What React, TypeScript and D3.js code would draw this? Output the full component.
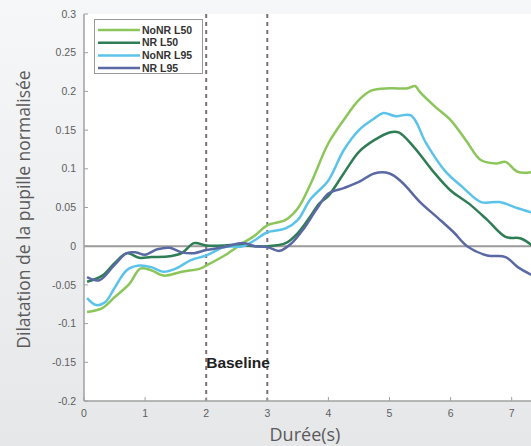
import React from 'react';
import * as d3 from 'd3';

// valeurs (temps en s, dilatation normalisée)
const noNrL50: [number, number][] = [
  [0.05, -0.085], [0.3, -0.08], [0.5, -0.066], [0.75, -0.048], [0.92, -0.029], [1.1, -0.031],
  [1.3, -0.038], [1.6, -0.033], [1.9, -0.029], [2.0, -0.025], [2.3, -0.012], [2.6, 0.004],
  [2.8, 0.014], [3.0, 0.027], [3.3, 0.034], [3.5, 0.049], [3.7, 0.079], [4.0, 0.133],
  [4.25, 0.163], [4.5, 0.189], [4.7, 0.201], [5.0, 0.204], [5.3, 0.204], [5.42, 0.207],
  [5.5, 0.199], [5.75, 0.18], [6.0, 0.163], [6.25, 0.137], [6.5, 0.111], [6.75, 0.107],
  [6.9, 0.109], [7.1, 0.096], [7.35, 0.096],
];
const nrL50: [number, number][] = [
  [0.05, -0.046], [0.3, -0.038], [0.5, -0.022], [0.7, -0.009], [0.9, -0.015], [1.1, -0.014],
  [1.4, -0.013], [1.6, -0.009], [1.8, 0.004], [2.0, 0.001], [2.3, 0.001], [2.5, 0.002],
  [2.8, 0.0], [3.0, 0.0], [3.3, 0.004], [3.5, 0.017], [3.7, 0.038], [3.85, 0.055],
  [4.0, 0.065], [4.25, 0.094], [4.5, 0.122], [4.75, 0.137], [5.0, 0.147], [5.15, 0.147],
  [5.4, 0.128], [5.7, 0.098], [6.0, 0.072], [6.3, 0.055], [6.6, 0.034], [6.9, 0.012],
  [7.15, 0.01], [7.35, 0.0],
];
const noNrL95: [number, number][] = [
  [0.05, -0.067], [0.2, -0.076], [0.35, -0.072], [0.5, -0.054], [0.7, -0.031], [0.9, -0.025],
  [1.1, -0.027], [1.3, -0.033], [1.5, -0.029], [1.75, -0.018], [2.0, -0.012], [2.3, -0.001],
  [2.6, 0.0], [2.8, 0.008], [3.0, 0.018], [3.3, 0.023], [3.5, 0.034], [3.7, 0.06],
  [4.0, 0.085], [4.25, 0.124], [4.5, 0.15], [4.75, 0.165], [4.9, 0.172], [5.1, 0.168],
  [5.35, 0.169], [5.6, 0.133], [5.9, 0.098], [6.2, 0.076], [6.5, 0.057], [6.8, 0.057],
  [7.1, 0.049], [7.35, 0.043],
];
const nrL95: [number, number][] = [
  [0.05, -0.04], [0.25, -0.044], [0.5, -0.024], [0.7, -0.009], [0.85, -0.008], [1.0, -0.011],
  [1.2, -0.004], [1.4, -0.002], [1.6, -0.008], [1.8, -0.009], [2.0, -0.005], [2.3, -0.001],
  [2.6, 0.004], [2.8, 0.0], [3.0, -0.001], [3.2, -0.006], [3.4, 0.004], [3.6, 0.023],
  [3.8, 0.047], [4.0, 0.068], [4.25, 0.075], [4.5, 0.083], [4.75, 0.094], [5.0, 0.094],
  [5.2, 0.083], [5.5, 0.057], [5.8, 0.036], [6.05, 0.018], [6.27, 0.0], [6.6, -0.012],
  [6.9, -0.014], [7.1, -0.027], [7.35, -0.038],
];

const seriesNames = ['NoNR L50', 'NR L50', 'NoNR L95', 'NR L95'];
const seriesData = [noNrL50, nrL50, noNrL95, nrL95];
const seriesColors = ['#8cc65a', '#2f7d55', '#5bc3ea', '#5a69a3'];

const xTicks = [0, 1, 2, 3, 4, 5, 6, 7];
const yTicks = [-0.2, -0.15, -0.1, -0.05, 0, 0.05, 0.1, 0.15, 0.2, 0.25, 0.3];
const baselineBounds = [2, 3];

const W = 531;
const H = 446;
const margin = { left: 84, top: 14, bottom: 45 };
const tickFont = 'Liberation Sans, Arial, sans-serif';

export default function App() {
  const x = d3.scaleLinear().domain([0, 7]).range([margin.left, margin.left + 7 * 61.1]);
  const y = d3.scaleLinear().domain([-0.2, 0.3]).range([H - margin.bottom, margin.top]);
  const line = d3
    .line<[number, number]>()
    .x((d) => x(d[0]))
    .y((d) => y(d[1]))
    .curve(d3.curveCatmullRom);

  const yFmt = (v: number) => (v === 0 ? '0' : String(+v.toFixed(2)));
  const bottom = y(-0.2);

  return (
    <svg width={W} height={H} style={{ position: 'absolute', left: 0, top: 0 }}>
      <defs>
        <linearGradient id="bg" x1="0" y1="0" x2="0" y2="1">
          <stop offset="0" stopColor="#f6f7f8" />
          <stop offset="1" stopColor="#e6e7e9" />
        </linearGradient>
        <clipPath id="plot">
          <rect x={margin.left} y={margin.top - 5} width={W - margin.left} height={bottom - margin.top + 5} />
        </clipPath>
      </defs>
      <rect width={W} height={H} fill="url(#bg)" />
      <rect x={margin.left} y={margin.top} width={W - margin.left} height={bottom - margin.top} fill="#fff" />

      {/* ligne zéro */}
      <line x1={margin.left} x2={W} y1={y(0)} y2={y(0)} stroke="#9a9a9a" strokeWidth={2} />

      {/* bornes de la baseline */}
      {baselineBounds.map((b) => (
        <line key={b} x1={x(b)} x2={x(b)} y1={margin.top} y2={bottom} stroke="#7d7272" strokeWidth={2} strokeDasharray="4,4" />
      ))}

      <g clipPath="url(#plot)">
        {seriesData.map((s, i) => (
          <path key={i} d={line(s) ?? ''} fill="none" stroke={seriesColors[i]} strokeWidth={2.5} />
        ))}
      </g>

      {/* axes */}
      <line x1={margin.left} x2={margin.left} y1={margin.top} y2={bottom} stroke="#a0a0a0" strokeWidth={1.5} />
      <line x1={margin.left} x2={W} y1={bottom} y2={bottom} stroke="#a0a0a0" strokeWidth={1.5} />
      <g fontFamily={tickFont} fontSize={10.5} fill="#5e5e5e">
        {yTicks.map((t) => (
          <g key={t}>
            <line x1={margin.left} x2={margin.left + 4} y1={y(t)} y2={y(t)} stroke="#a0a0a0" />
            <text x={margin.left - 8} y={y(t)} dy="0.35em" textAnchor="end">{yFmt(t)}</text>
          </g>
        ))}
        {xTicks.map((t) => (
          <g key={t}>
            <line x1={x(t)} x2={x(t)} y1={bottom} y2={bottom - 4} stroke="#a0a0a0" />
            <text x={x(t)} y={bottom + 16} textAnchor="middle">{t}</text>
          </g>
        ))}
      </g>

      <text x={x(2)} y={368} fontFamily={tickFont} fontWeight="bold" fontSize={15.5} fill="#222">
        Baseline
      </text>

      {/* légende */}
      <rect x={94.5} y={19.5} width={108} height={54} fill="#fff" stroke="#9a9a9a" />
      {seriesNames.map((n, i) => (
        <g key={n}>
          <line x1={98} x2={140} y1={30 + i * 12.7} y2={30 + i * 12.7} stroke={seriesColors[i]} strokeWidth={2.5} />
          <text x={142} y={30 + i * 12.7} dy="0.35em" fontFamily={tickFont} fontWeight="bold" fontSize={10.5} fill="#333">
            {n}
          </text>
        </g>
      ))}

      <text
        transform="translate(30,209.5) rotate(-90)"
        textAnchor="middle"
        fontFamily="Open Sans, sans-serif"
        fontSize={17.5}
        fill="#5a5a5a"
      >
        Dilatation de la pupille normalisée
      </text>
      <text x={305} y={441} textAnchor="middle" fontFamily="Open Sans, sans-serif" fontSize={18} fill="#5a5a5a">
        Durée(s)
      </text>
    </svg>
  );
}
